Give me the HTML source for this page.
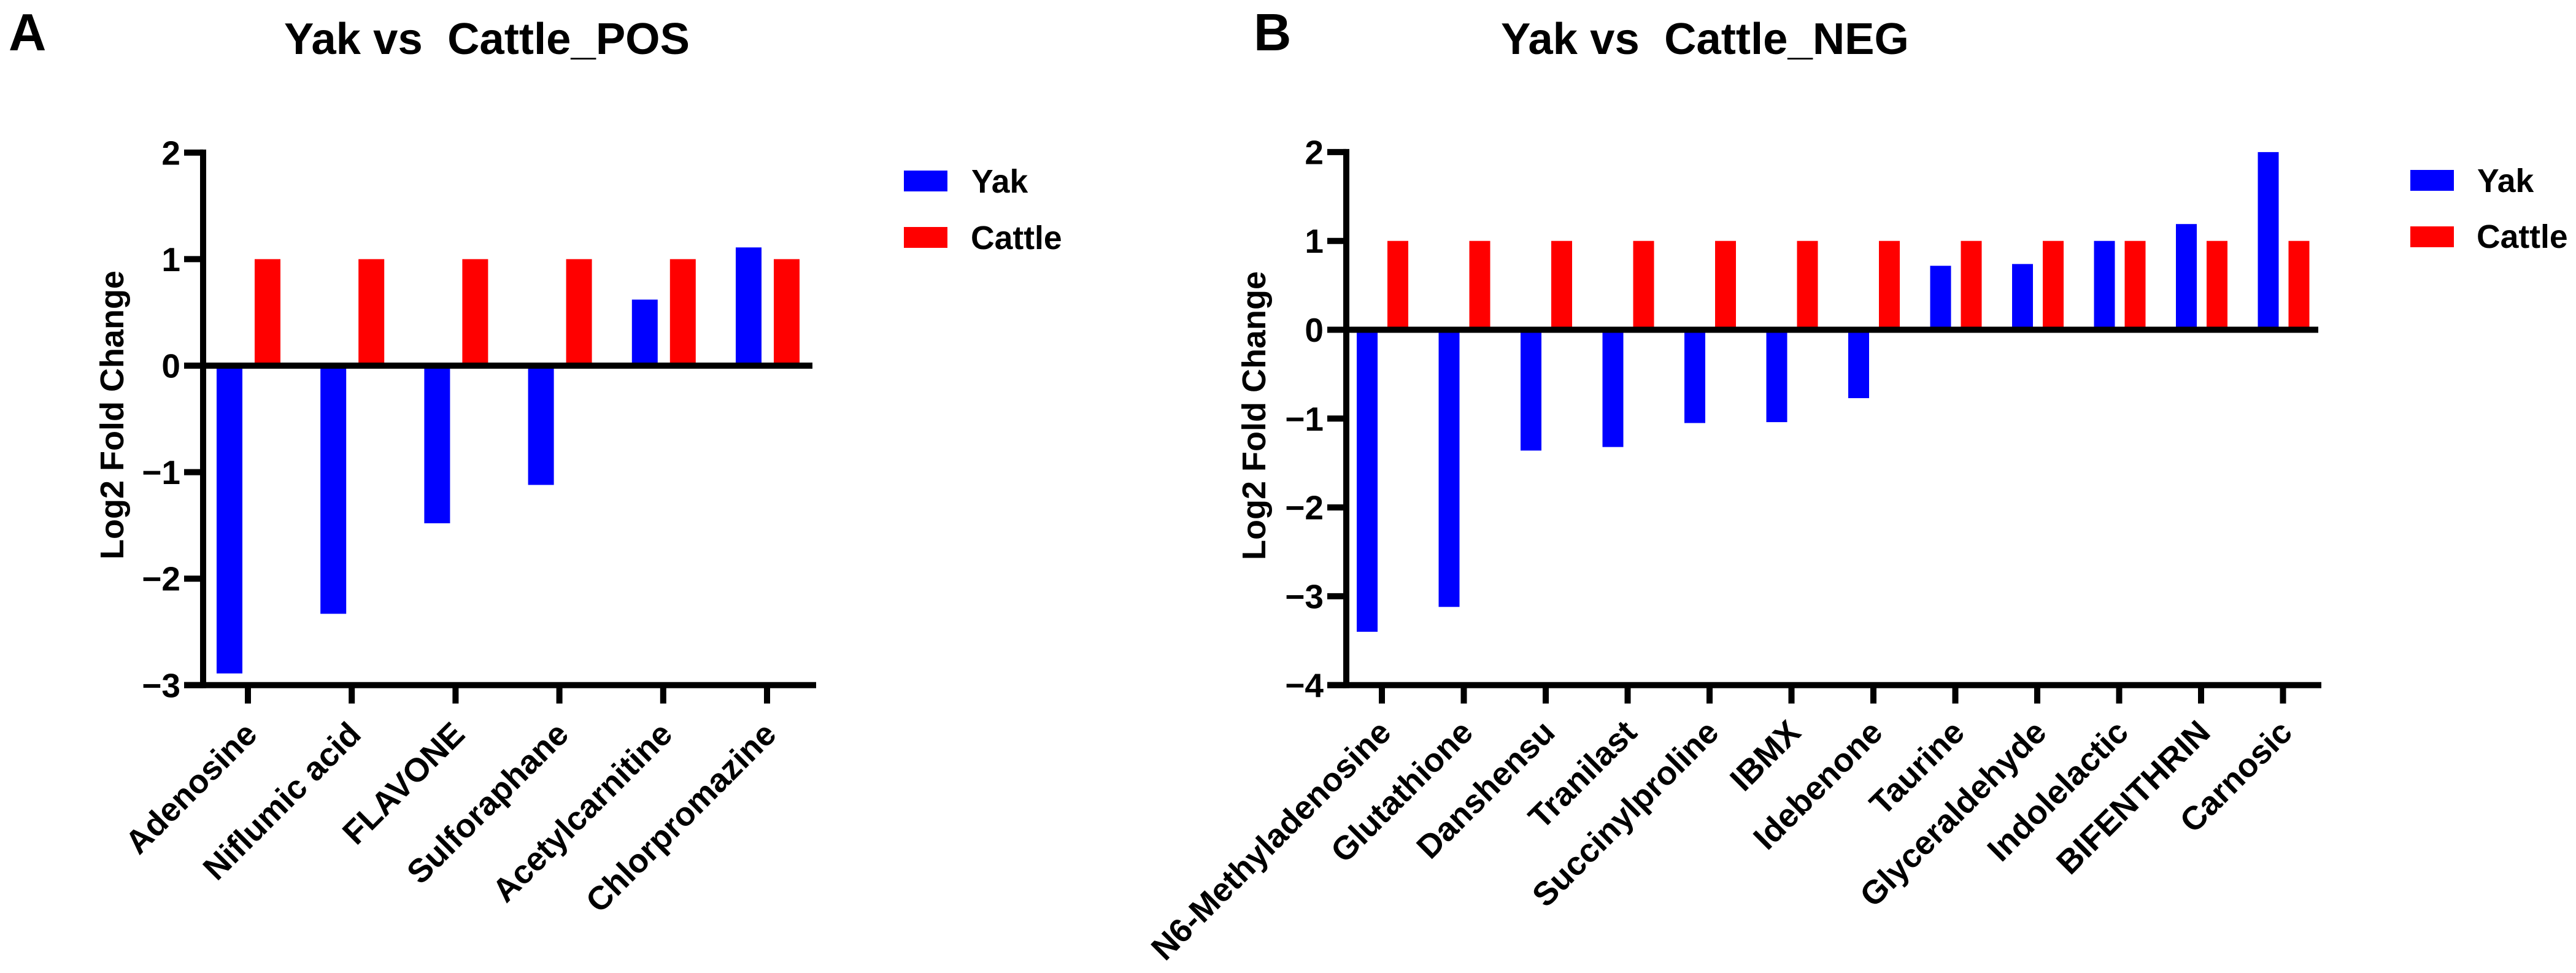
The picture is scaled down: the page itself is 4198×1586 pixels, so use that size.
<!DOCTYPE html>
<html lang="en">
<head>
<meta charset="utf-8">
<title>Yak vs Cattle log2 fold change</title>
<style>
  html, body { margin: 0; padding: 0; background: #fff; }
  body { width: 4198px; height: 1586px; overflow: hidden; }
  svg { display: block; }
  text { font-family: "Liberation Sans", Arial, sans-serif; font-weight: bold; fill: #000; white-space: pre; }
</style>
</head>
<body>
<svg id="figure" xmlns="http://www.w3.org/2000/svg" width="4198" height="1586" viewBox="0 0 4198 1586">
  <rect x="0" y="0" width="4198" height="1586" fill="#ffffff"/>
  <text x="14" y="82" font-size="85">A</text>
  <text x="2043" y="82" font-size="85">B</text>
  <text x="463" y="88" font-size="72.5">Yak vs  Cattle_POS</text>
  <text x="2446" y="88" font-size="72.5">Yak vs  Cattle_NEG</text>
  <text transform="translate(201 912) rotate(-90)" font-size="54">Log2 Fold Change</text>
  <text transform="translate(2062 913) rotate(-90)" font-size="54">Log2 Fold Change</text>
  <g>
    <rect x="1473" y="278" width="71" height="34" fill="#0000ff"/>
    <text x="1583" y="314" font-size="53.5">Yak</text>
    <rect x="1473" y="370" width="71" height="34" fill="#ff0000"/>
    <text x="1582" y="406" font-size="53.5">Cattle</text>
  </g>
  <g>
    <rect x="3928" y="277" width="71" height="34" fill="#0000ff"/>
    <text x="4037" y="313" font-size="53.5">Yak</text>
    <rect x="3928" y="369" width="71" height="34" fill="#ff0000"/>
    <text x="4036" y="404" font-size="53.5">Cattle</text>
  </g>
  <g id="panel-pos"></g>
  <g id="panel-neg"></g>
</svg>
<script>
const posCategories = ["Adenosine", "Niflumic acid", "FLAVONE", "Sulforaphane", "Acetylcarnitine", "Chlorpromazine"];
const posYak = [-2.89, -2.33, -1.48, -1.12, 0.62, 1.11];
const posCattle = [1, 1, 1, 1, 1, 1];
const posTicks = [2, 1, 0, -1, -2, -3];

const negCategories = ["N6-Methyladenosine", "Glutathione", "Danshensu", "Tranilast", "Succinylproline", "IBMX", "Idebenone", "Taurine", "Glyceraldehyde", "Indolelactic", "BIFENTHRIN", "Carnosic"];
const negYak = [-3.4, -3.12, -1.36, -1.32, -1.05, -1.04, -0.77, 0.72, 0.74, 1.0, 1.19, 2.0];
const negCattle = [1, 1, 1, 1, 1, 1, 1, 1, 1, 1, 1, 1];
const negTicks = [2, 1, 0, -1, -2, -3, -4];

const SVG_NS = "http://www.w3.org/2000/svg";

function make(parent, tag, attrs) {
  const el = document.createElementNS(SVG_NS, tag);
  for (const key in attrs) el.setAttribute(key, attrs[key]);
  parent.appendChild(el);
  return el;
}

function drawPanel(root, suffix, geom, categories, yak, cattle, ticks) {
  const yScale = v => geom.y0 - v * geom.unit;
  const xBand = i => geom.x0 + i * geom.step;
  const top = yScale(ticks[0]);
  const bottom = yScale(ticks[ticks.length - 1]);

  categories.forEach((name, i) => {
    const yakBar = make(root, "rect", {
      x: xBand(i) - geom.offset - geom.barWidth / 2,
      y: Math.min(yScale(yak[i]), geom.y0),
      width: geom.barWidth,
      height: Math.abs(yScale(yak[i]) - geom.y0),
      fill: "#0000ff"
    });
    
    

    const cattleBar = make(root, "rect", {
      x: xBand(i) + geom.offset - geom.barWidth / 2,
      y: Math.min(yScale(cattle[i]), geom.y0),
      width: geom.barWidth,
      height: Math.abs(yScale(cattle[i]) - geom.y0),
      fill: "#ff0000"
    });
    
    

    const xTick = make(root, "line", {
      x1: xBand(i) - 1, x2: xBand(i) - 1,
      y1: bottom, y2: bottom + 30,
      stroke: "#000", "stroke-width": 10
    });
    
    

    const ax = xBand(i) + 17;
    const ay = geom.labelY;
    const xLabel = make(root, "text", {
      "text-anchor": "end",
      "font-size": 54,
      transform: "translate(" + ax + " " + ay + ") rotate(-45)"
    });
    xLabel.textContent = name;
    
    
  });

  const yAxis = make(root, "line", {
    x1: geom.axisX, x2: geom.axisX,
    y1: top - 5, y2: bottom + 5,
    stroke: "#000", "stroke-width": 10
  });
  
  

  ticks.forEach(v => {
    const yTick = make(root, "line", {
      x1: geom.axisX - 31, x2: geom.axisX,
      y1: yScale(v), y2: yScale(v),
      stroke: "#000", "stroke-width": 10
    });
    
    

    const yLabel = make(root, "text", {
      x: geom.axisX - 37,
      y: yScale(v) + 19.5,
      "text-anchor": "end",
      "font-size": 55
    });
    yLabel.textContent = String(v).replace("-", "\u2212");
    
    
  });

  const zeroLine = make(root, "line", {
    x1: geom.axisX - 31, x2: geom.zeroEnd,
    y1: geom.y0, y2: geom.y0,
    stroke: "#000", "stroke-width": 10
  });
  
  

  const xAxis = make(root, "line", {
    x1: geom.axisX - 31, x2: geom.axisEnd,
    y1: bottom, y2: bottom,
    stroke: "#000", "stroke-width": 10
  });
  
  
}

drawPanel(document.getElementById("panel-pos"), "pos",
  { y0: 596, unit: 173.6, x0: 405, step: 169.2, offset: 31, barWidth: 42, axisX: 331, zeroEnd: 1324, axisEnd: 1330, labelY: 1200 },
  posCategories, posYak, posCattle, posTicks);

drawPanel(document.getElementById("panel-neg"), "neg",
  { y0: 537.5, unit: 144.8, x0: 2253, step: 133.5, offset: 25, barWidth: 34, axisX: 2194, zeroEnd: 3778, axisEnd: 3783, labelY: 1197 },
  negCategories, negYak, negCattle, negTicks);
</script>
</body>
</html>
